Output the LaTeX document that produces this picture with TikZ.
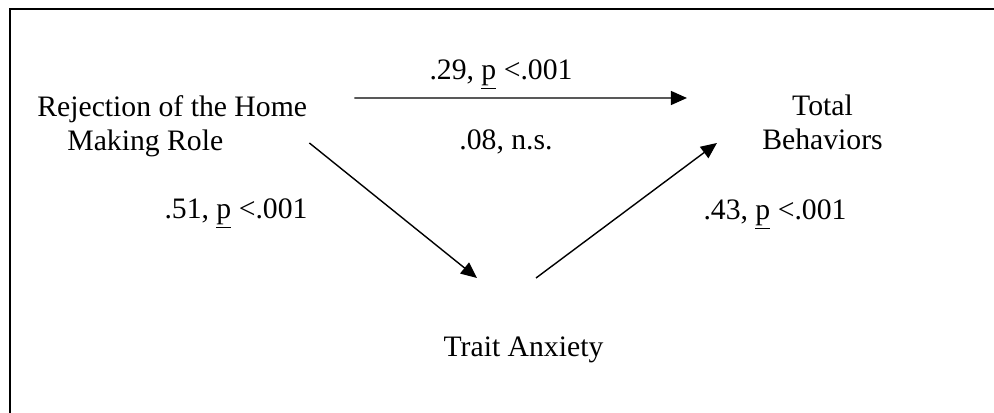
\documentclass[tikz,border=0pt]{standalone}
\usepackage{fontspec}
\setmainfont{Liberation Serif}
\usetikzlibrary{arrows.meta}

\tikzset{
  txt/.style={inner sep=0pt, font=\fontsize{16.9pt}{19.9pt}\selectfont},
  arr/.style={line width=0.8pt, -{Triangle[length=3.2mm,width=2.8mm]}}
}

\begin{document}
\begin{tikzpicture}
              \useasboundingbox (0,0) rectangle (19.88,8.26);
              \draw[line width=1.1pt] (0.2,0) -- (0.2,8.08) -- (19.88,8.08);

              \node[txt, align=left, anchor=base west] (home) at (0.74,5.24)
                    {Rejection of the Home\\\hspace*{0.6cm}Making Role};
              \node[txt, align=center, anchor=base] (total) at (16.45,5.26) {Total\\Behaviors};
              \node[txt, anchor=base] (trait) at (10.47,1.12) {Trait Anxiety};

              \node[txt, anchor=base] (c29) at (10.02,6.66) {.29, \underline{p} <.001};
              \node[txt, anchor=base] (c08) at (10.12,5.26) {.08, n.s.};
              \node[txt, anchor=base] (c51) at (4.72,3.88) {.51, \underline{p} <.001};
              \node[txt, anchor=base] (c43) at (15.5,3.86) {.43, \underline{p} <.001};

              \draw[arr] ([shift={(0.94,1.06)}]home.base east) -- ([shift={(-1.5,1.04)}]total.base west);
              \draw[arr] ([shift={(0.04,0.16)}]home.base east) -- ([shift={(-0.93,1.58)}]trait.base);
              \draw[arr] ([shift={(0.25,1.58)}]trait.base) -- ([shift={(-0.9,0.14)}]total.base west);
          \end{tikzpicture}
\end{document}
